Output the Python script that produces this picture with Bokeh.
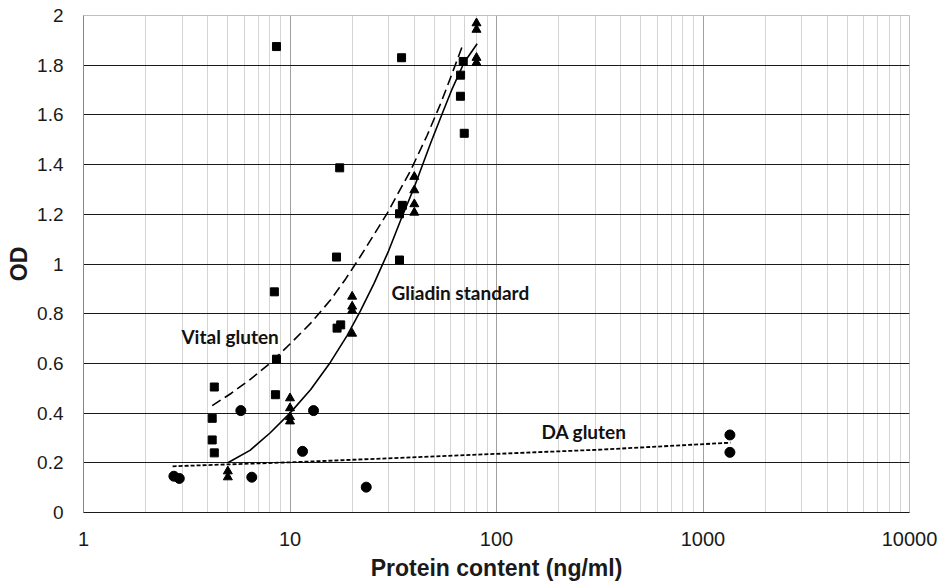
from bokeh.plotting import figure
from bokeh.models import Range1d, FixedTicker, CustomJSTickFormatter, Label
from bokeh.embed import file_html
from bokeh.resources import INLINE

# ---- data ----
vital_x = [8.6, 34.7, 17.4, 16.8, 8.4, 16.9, 17.6, 8.6, 8.5, 4.3, 4.2, 4.2, 4.3,
           33.9, 35.0, 33.9, 69.0, 67.0, 66.9, 69.8]
vital_y = [1.875, 1.83, 1.387, 1.028, 0.888, 0.742, 0.755, 0.617, 0.474, 0.505,
           0.379, 0.292, 0.24, 1.202, 1.236, 1.016, 1.815, 1.76, 1.675, 1.526]

gliadin_x = [5, 5, 10, 10, 10, 10, 20, 20, 20, 20, 40, 40, 40, 40, 80, 80, 80, 80]
gliadin_y = [0.166, 0.142, 0.46, 0.42, 0.384, 0.367, 0.869, 0.829, 0.812, 0.72,
             1.351, 1.297, 1.241, 1.207, 1.969, 1.943, 1.83, 1.81]

da_x = [2.74, 2.91, 5.78, 13.0, 11.5, 6.53, 23.4, 1350, 1350]
da_y = [0.146, 0.137, 0.41, 0.41, 0.246, 0.142, 0.102, 0.312, 0.242]

# trend lines
gliadin_fit_x = [5, 6.4, 8, 10, 12.6, 15.7, 18.9, 21.9, 25.5, 30, 34.3, 40, 48,
                 55.6, 61, 69.6, 80.6]
gliadin_fit_y = [0.20, 0.25, 0.32, 0.40, 0.495, 0.605, 0.712, 0.81, 0.921, 1.052,
                 1.175, 1.31, 1.487, 1.622, 1.705, 1.81, 1.886]

vital_fit_x = [4.2, 5.2, 6.4, 8, 10, 12.6, 15.7, 18.6, 21.9, 29.6, 38.3, 46,
               53.6, 57.7, 69]
vital_fit_y = [0.43, 0.48, 0.535, 0.60, 0.678, 0.762, 0.855, 0.94, 1.03, 1.205,
               1.375, 1.515, 1.645, 1.714, 1.886]

da_fit_x = [2.7, 10, 34, 320, 1359]
da_fit_y = [0.186, 0.202, 0.22, 0.253, 0.281]

x_ticks = [1, 10, 100, 1000, 10000]
y_ticks = [0, 0.2, 0.4, 0.6, 0.8, 1.0, 1.2, 1.4, 1.6, 1.8, 2.0]
x_minor = [m * d for d in (1, 10, 100, 1000) for m in range(2, 10)]

series_labels = ["Vital gluten", "Gliadin standard", "DA gluten"]

# ---- figure ----
p = figure(width=941, height=583, x_axis_type="log",
           x_range=Range1d(1, 10000), y_range=Range1d(0, 2),
           output_backend="svg", toolbar_location=None,
           min_border_left=83, min_border_right=32,
           min_border_top=15, min_border_bottom=70)
p.background_fill_color = "white"
p.border_fill_color = "white"
p.outline_line_color = "#bfbfbf"

xt = FixedTicker(ticks=x_ticks, minor_ticks=x_minor)
p.xaxis.ticker = xt
p.xgrid.ticker = xt
p.xgrid.grid_line_color = "#a0a0a0"
p.xgrid.minor_grid_line_color = "#d4d4d4"

yt = FixedTicker(ticks=y_ticks)
p.yaxis.ticker = yt
p.ygrid.ticker = FixedTicker(ticks=y_ticks[1:-1])
p.ygrid.grid_line_color = "#1a1a1a"

p.xaxis.formatter = CustomJSTickFormatter(code="return String(Math.round(tick));")
p.yaxis.formatter = CustomJSTickFormatter(code="return String(Math.round(tick*10)/10);")

for ax in (p.xaxis[0], p.yaxis[0]):
    ax.major_tick_line_color = None
    ax.minor_tick_line_color = None
    ax.major_tick_out = 0
    ax.minor_tick_out = 0
    ax.major_tick_in = 0
    ax.minor_tick_in = 0
    ax.major_label_text_font = "Liberation Sans"
    ax.major_label_text_color = "#1a1a1a"
    ax.axis_label_text_font = "Liberation Sans"
    ax.axis_label_text_font_style = "bold"
    ax.axis_label_text_font_size = "23px"
    ax.axis_label_text_color = "#1a1a1a"

p.xaxis.major_label_text_font_size = "20px"
p.yaxis.major_label_text_font_size = "19px"
p.xaxis.axis_line_color = "#1a1a1a"
p.yaxis.axis_line_color = "#868686"
p.xaxis.major_label_standoff = 19
p.yaxis.major_label_standoff = 20
p.xaxis.axis_label = "Protein content (ng/ml)"
p.yaxis.axis_label = "OD"
p.xaxis.axis_label_standoff = 6
p.yaxis.axis_label_standoff = 2

# trend lines
p.line(vital_fit_x, vital_fit_y, line_color="black", line_width=1.6, line_dash="10 5")
p.line(gliadin_fit_x, gliadin_fit_y, line_color="black", line_width=1.6)
p.line(da_fit_x, da_fit_y, line_color="black", line_width=1.8, line_dash="4 2")

# points
p.scatter(vital_x, vital_y, marker="square", size=8, fill_color="black", line_color="black")
p.scatter(gliadin_x, gliadin_y, marker="triangle", size=9, fill_color="black", line_color="black")
p.scatter(da_x, da_y, marker="circle", size=10, fill_color="black", line_color="black")

# series labels
label_pos = [(2.98, 0.707), (31.0, 0.884), (165, 0.325)]
for txt, (lx, ly) in zip(series_labels, label_pos):
    p.add_layout(Label(x=lx, y=ly, text=txt, text_font="Lato", text_font_style="bold",
                       text_font_size="19px", text_color="#111111",
                       text_baseline="middle", text_align="left"))

open("out.html", "w").write(file_html(p, INLINE))
